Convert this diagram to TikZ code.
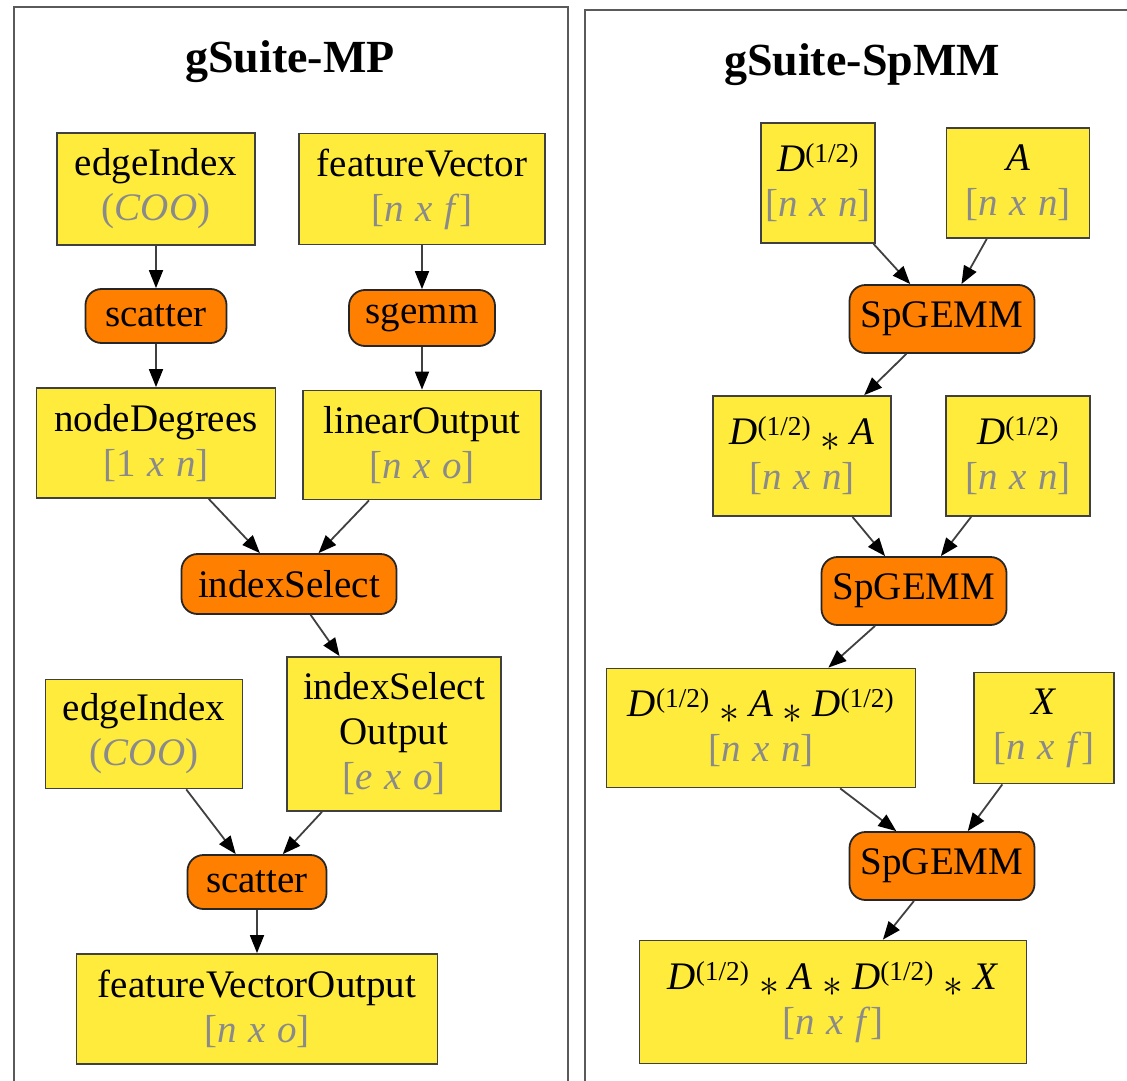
\documentclass[tikz,border=0pt]{standalone}
\usepackage{fontspec}
\setmainfont{Liberation Serif}
\usetikzlibrary{arrows.meta}
\definecolor{datayellow}{HTML}{FFEB3B}
\definecolor{oporange}{HTML}{FF7F00}
\definecolor{framegray}{HTML}{5A5A5A}
\definecolor{dimgray}{HTML}{8A8A8A}
\definecolor{edgegray}{HTML}{404040}
\newcommand{\dimtext}[2]{{\color{dimgray}[\textit{#1}\hspace{0.3em}\textit{x}\hspace{0.3em}\textit{#2}]}}
\newcommand{\halfpow}{\textit{D}\textsuperscript{(1/2)}}
\newcommand{\matmul}{\hspace{0.25em}\raisebox{-0.18em}{\scalebox{1.6}{$\ast$}}\hspace{0.25em}}
\tikzstyle{title} = [
    font=\rmfamily\fontsize{46}{50}\selectfont\bfseries
]
\tikzstyle{databox} = [
    rectangle,
    align=center,
    inner sep=4pt,
    line width=1.8pt,
    draw=edgegray,
    fill=datayellow,
    font=\rmfamily\fontsize{39}{45}\selectfont
]
\tikzstyle{opbox} = [
    rectangle,
    rounded corners=16pt,
    minimum height=56pt,
    inner sep=4pt,
    line width=1.8pt,
    draw=black!85,
    fill=oporange,
    font=\rmfamily\fontsize{39}{45}\selectfont
]
\tikzstyle{arrow} = [line width=1.8pt, draw=edgegray,
    -{Triangle[length=18pt,width=14pt,color=black]}]

\begin{document}
\begin{tikzpicture}[x=1pt, y=-1pt, node distance=127pt]
\useasboundingbox (0,0) rectangle (1127,1081);

% frames
\draw [framegray, line width=2pt] (14,7) rectangle (568,1110);
\draw [framegray, line width=2pt] (585,10) rectangle (1150,1110);

\node (mptitle) [title] at (290,62) {gSuite-MP};
\node (spmmtitle) [title] at (862,65) {gSuite-SpMM};

% gSuite-MP
\node (edges) [databox, minimum width=198pt, minimum height=112pt] at (156,189)
{edgeIndex\\{\color{dimgray}(\textit{COO})}};

\node (features) [databox, right of=edges, xshift=139pt, minimum width=246pt, minimum height=111pt]
{featureVector\\\dimtext{n}{f}};

\node (scatterA) [opbox, below of=edges, minimum width=141pt, minimum height=54pt]
{scatter};

\node (sgemm) [opbox, below of=features, yshift=-2pt, minimum width=146pt]
{sgemm};

\node (degrees) [databox, below of=scatterA, minimum width=239pt, minimum height=110pt]
{nodeDegrees\\\dimtext{\upshape 1}{n}};

\node (linear) [databox, below of=sgemm, minimum width=238pt, minimum height=109pt]
{linearOutput\\\dimtext{n}{o}};

\node (select) [opbox, below of=degrees, xshift=133pt, yshift=-14pt, minimum width=215pt, minimum height=60pt]
{indexSelect};

\node (selectout) [databox, below of=select, xshift=105pt, yshift=-23pt, minimum width=214pt, minimum height=154pt]
{indexSelect\\Output\\\dimtext{e}{o}};

\node (edgesB) [databox, left of=selectout, xshift=-123pt, minimum width=197pt, minimum height=109pt]
{edgeIndex\\{\color{dimgray}(\textit{COO})}};

\node (scatterB) [opbox, below of=edgesB, xshift=113pt, yshift=-21pt, minimum width=139pt, minimum height=54pt]
{scatter};

\node (featuresout) [databox, below of=scatterB, minimum width=361pt, minimum height=110pt]
{featureVectorOutput\\\dimtext{n}{o}};

\draw [arrow] (edges) -- (scatterA);
\draw [arrow] (features) -- (sgemm);
\draw [arrow] (scatterA) -- (degrees);
\draw [arrow] (sgemm) -- (linear);
\draw [arrow] (degrees) -- (select);
\draw [arrow] (linear) -- (select);
\draw [arrow] (select) -- (selectout);
\draw [arrow] (edgesB) -- (scatterB);
\draw [arrow] (selectout) -- (scatterB);
\draw [arrow] (scatterB) -- (featuresout);

% gSuite-SpMM
\node (dhalf) [databox, minimum width=114pt, minimum height=120pt] at (818,183)
{\halfpow\\\dimtext{n}{n}};

\node (adj) [databox, right of=dhalf, xshift=73pt, minimum width=143pt, minimum height=110pt]
{\textit{A}\\\dimtext{n}{n}};

\node (spA) [opbox, below of=dhalf, xshift=124pt, yshift=-9pt, minimum width=185pt, minimum height=68pt]
{SpGEMM};

\node (da) [databox, below of=spA, xshift=-140pt, yshift=-10pt, minimum width=178pt, minimum height=120pt]
{\halfpow\matmul\textit{A}\\\dimtext{n}{n}};

\node (dhalfB) [databox, right of=da, xshift=89pt, minimum width=144pt, minimum height=120pt]
{\halfpow\\\dimtext{n}{n}};

\node (spB) [opbox, below of=da, xshift=112pt, yshift=-8pt, minimum width=185pt, minimum height=68pt]
{SpGEMM};

\node (dad) [databox, below of=spB, xshift=-153pt, yshift=-10pt, minimum width=309pt, minimum height=119pt]
{\halfpow\matmul\textit{A}\matmul\halfpow\\\dimtext{n}{n}};

\node (feat) [databox, right of=dad, xshift=156pt, minimum width=140pt, minimum height=111pt]
{\textit{X}\\\dimtext{n}{f}};

\node (spC) [opbox, below of=dad, xshift=181pt, yshift=-11pt, minimum width=185pt, minimum height=68pt]
{SpGEMM};

\node (dadx) [databox, below of=spC, xshift=-109pt, yshift=-9pt, minimum width=387pt, minimum height=123pt]
{\halfpow\matmul\textit{A}\matmul\halfpow\matmul\textit{X}\\\dimtext{n}{f}};

\draw [arrow] (dhalf) -- (spA);
\draw [arrow] (adj) -- (spA);
\draw [arrow] (spA) -- (da);
\draw [arrow] (da) -- (spB);
\draw [arrow] (dhalfB) -- (spB);
\draw [arrow] (spB) -- (dad);
\draw [arrow] (dad) -- (spC);
\draw [arrow] (feat) -- (spC);
\draw [arrow] (spC) -- (dadx);

\end{tikzpicture}
\end{document}
